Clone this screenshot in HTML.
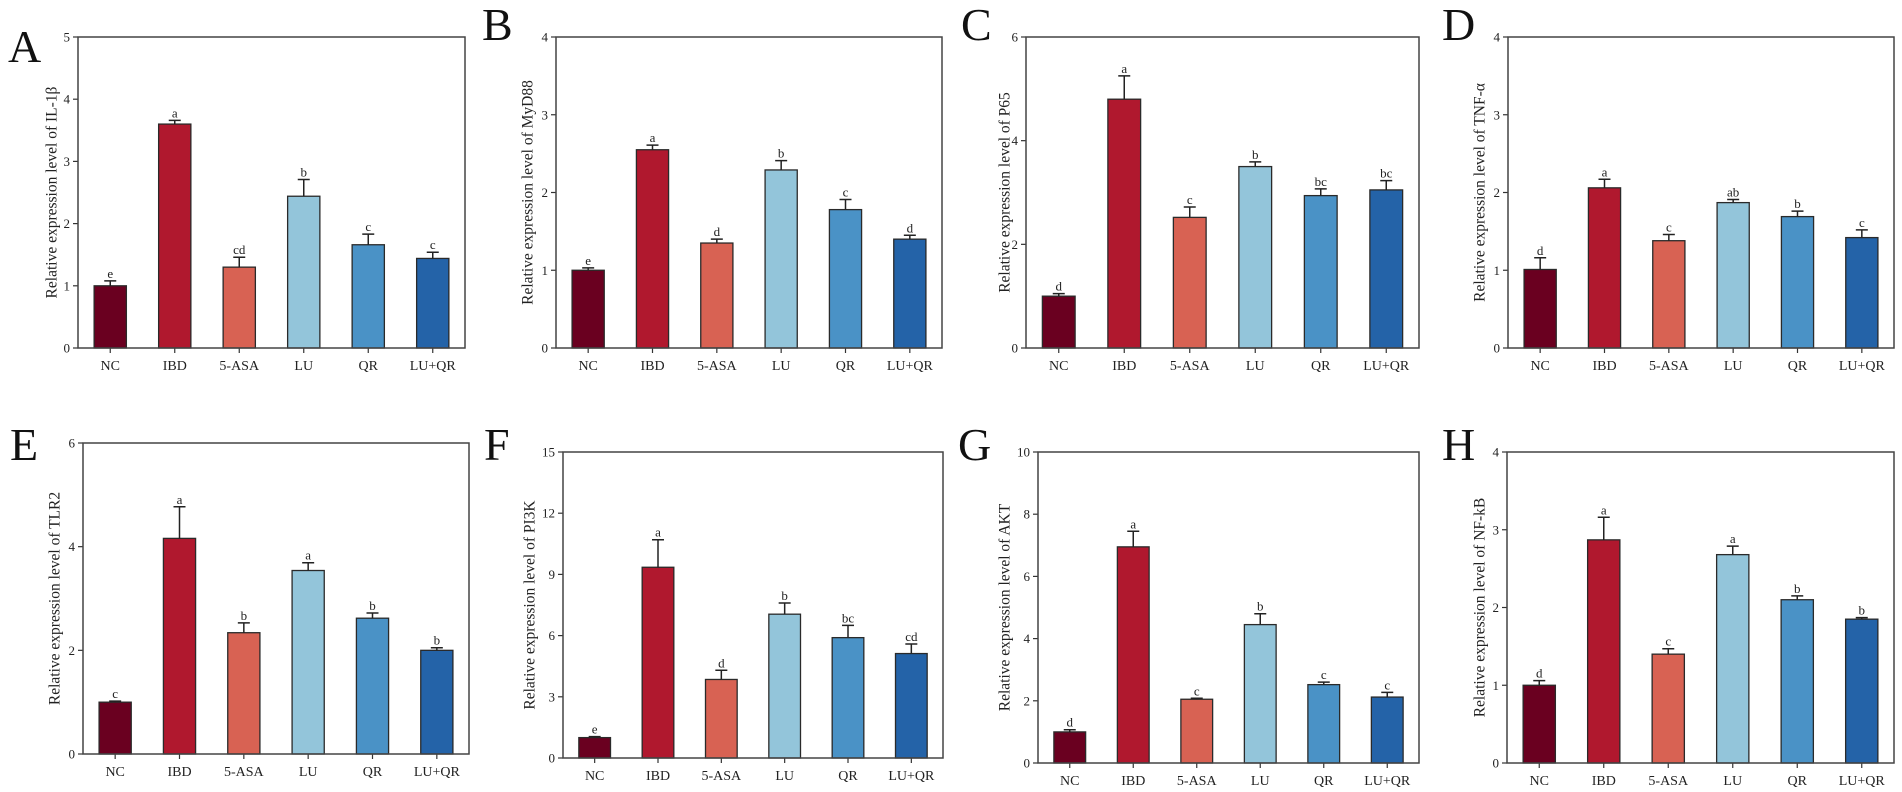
<!DOCTYPE html>
<html><head><meta charset="utf-8"><style>
html,body{margin:0;padding:0;background:#fff;}
svg{display:block;font-family:"Liberation Serif",serif;}
</style></head><body>
<svg id="fig" width="1902" height="792" viewBox="0 0 1902 792" xmlns="http://www.w3.org/2000/svg"></svg>
<script>
const categories = ["NC","IBD","5-ASA","LU","QR","LU+QR"];
const colors = ["#6a0020","#b0182e","#d86253","#93c5da","#4a92c6","#2463a8"];
const panelLetters = ["A","B","C","D","E","F","G","H"];
const genes = ["IL-1β","MyD88","P65","TNF-α","TLR2","PI3K","AKT","NF-kB"];
const yMaxes = [5,4,6,4,6,15,10,4];
const yTicksA = [0,1,2,3,4,5];
const yTicksB = [0,1,2,3,4];
const yTicksC = [0,2,4,6];
const yTicksD = [0,1,2,3,4];
const yTicksE = [0,2,4,6];
const yTicksF = [0,3,6,9,12,15];
const yTicksG = [0,2,4,6,8,10];
const yTicksH = [0,1,2,3,4];
const valuesA = [1.0,3.6,1.3,2.44,1.66,1.44];
const valuesB = [1.0,2.55,1.35,2.29,1.78,1.40];
const valuesC = [1.0,4.8,2.52,3.5,2.94,3.05];
const valuesD = [1.01,2.06,1.38,1.87,1.69,1.42];
const valuesE = [1.0,4.16,2.34,3.54,2.62,2.0];
const valuesF = [1.0,9.35,3.85,7.05,5.9,5.12];
const valuesG = [1.0,6.95,2.05,4.45,2.52,2.12];
const valuesH = [1.0,2.87,1.4,2.68,2.1,1.85];
const errorsA = [0.08,0.06,0.16,0.27,0.17,0.10];
const errorsB = [0.03,0.06,0.05,0.12,0.13,0.05];
const errorsC = [0.05,0.45,0.20,0.09,0.13,0.18];
const errorsD = [0.15,0.11,0.08,0.04,0.07,0.10];
const errorsE = [0.02,0.61,0.19,0.15,0.10,0.05];
const errorsF = [0.05,1.35,0.45,0.55,0.60,0.47];
const errorsG = [0.07,0.50,0.03,0.35,0.08,0.15];
const errorsH = [0.06,0.29,0.07,0.11,0.05,0.02];
const sigA = ["e","a","cd","b","c","c"];
const sigB = ["e","a","d","b","c","d"];
const sigC = ["d","a","c","b","bc","bc"];
const sigD = ["d","a","c","ab","b","c"];
const sigE = ["c","a","b","a","b","b"];
const sigF = ["e","a","d","b","bc","cd"];
const sigG = ["d","a","c","b","c","c"];
const sigH = ["d","a","c","a","b","b"];

const allTicks=[yTicksA,yTicksB,yTicksC,yTicksD,yTicksE,yTicksF,yTicksG,yTicksH];
const allVals=[valuesA,valuesB,valuesC,valuesD,valuesE,valuesF,valuesG,valuesH];
const allErr=[errorsA,errorsB,errorsC,errorsD,errorsE,errorsF,errorsG,errorsH];
const allSig=[sigA,sigB,sigC,sigD,sigE,sigF,sigG,sigH];
// layout: plot box [left,top,right,bottom], letter pos, title x
const layout=[
 {l:78,t:37,r:465,b:348,lx:8,ly:62,tx:52},
 {l:556,t:37,r:942,b:348,lx:482,ly:40,tx:528},
 {l:1026,t:37,r:1419,b:348,lx:961,ly:40,tx:1005},
 {l:1508,t:37,r:1894,b:348,lx:1442,ly:40,tx:1480},
 {l:83,t:443,r:469,b:754,lx:10,ly:460,tx:55},
 {l:563,t:452,r:943,b:758,lx:484,ly:460,tx:530},
 {l:1038,t:452,r:1419,b:763,lx:958,ly:460,tx:1005},
 {l:1507,t:452,r:1894,b:763,lx:1442,ly:460,tx:1480}
];
const NS="http://www.w3.org/2000/svg";
const svg=document.getElementById('fig');
function mk(tag,attrs,parent){const e=document.createElementNS(NS,tag);for(const k in attrs)e.setAttribute(k,attrs[k]);(parent||svg).appendChild(e);return e;}

for(let p=0;p<8;p++){
  const L=layout[p];
  const g=mk('g',{});
  
  
  const yMax=yMaxes[p];
  const y=v=>L.b-(v/yMax)*(L.b-L.t);
  const slot=(L.r-L.l)/categories.length;
  const x=i=>L.l+slot*(i+0.5);
  const bw=slot*0.5;
  // letter
  const lt=mk('text',{x:L.lx,y:L.ly,'font-size':46,fill:'#111'},g);
  lt.textContent=panelLetters[p];
  
  
  // y title
  const cy=(L.t+L.b)/2;
  const yt=mk('text',{x:L.tx,y:cy,'font-size':15.5,fill:'#222','text-anchor':'middle','dominant-baseline':'central',transform:`rotate(-90 ${L.tx} ${cy})`},g);
  yt.textContent='Relative expression level of '+genes[p];
  
  
  // bars
  const vals=allVals[p],errs=allErr[p],sig=allSig[p];
  for(let i=0;i<categories.length;i++){
    const top=y(vals[i]);
    const bar=mk('rect',{x:x(i)-bw/2,y:top,width:bw,height:L.b-top,fill:colors[i],stroke:'#2a2a2a','stroke-width':1.3},g);
    
    
    const et=y(vals[i]+errs[i]);
    const eb=mk('path',{d:`M${x(i)} ${top}V${et}M${x(i)-6} ${et}H${x(i)+6}`,stroke:'#222','stroke-width':1.5,fill:'none'},g);
    
    
    const st=mk('text',{x:x(i),y:et-3,'font-size':13,fill:'#222','text-anchor':'middle'},g);
    st.textContent=sig[i];
    
    
    const tk=mk('line',{x1:x(i),x2:x(i),y1:L.b,y2:L.b+5,stroke:'#333','stroke-width':1.2},g);
    
    
    const xl=mk('text',{x:x(i),y:L.b+22,'font-size':14,fill:'#222','text-anchor':'middle'},g);
    xl.textContent=categories[i];
    
    
  }
  // y ticks
  for(const t of allTicks[p]){
    const tk=mk('line',{x1:L.l-5,x2:L.l,y1:y(t),y2:y(t),stroke:'#333','stroke-width':1.2},g);
    
    
    const tl=mk('text',{x:L.l-8,y:y(t),'font-size':13,fill:'#222','text-anchor':'end','dominant-baseline':'central'},g);
    tl.textContent=t;
    
    
  }
  const box=mk('rect',{x:L.l,y:L.t,width:L.r-L.l,height:L.b-L.t,fill:'none',stroke:'#444','stroke-width':1.5},g);
  
  
}
</script>
</body></html>
